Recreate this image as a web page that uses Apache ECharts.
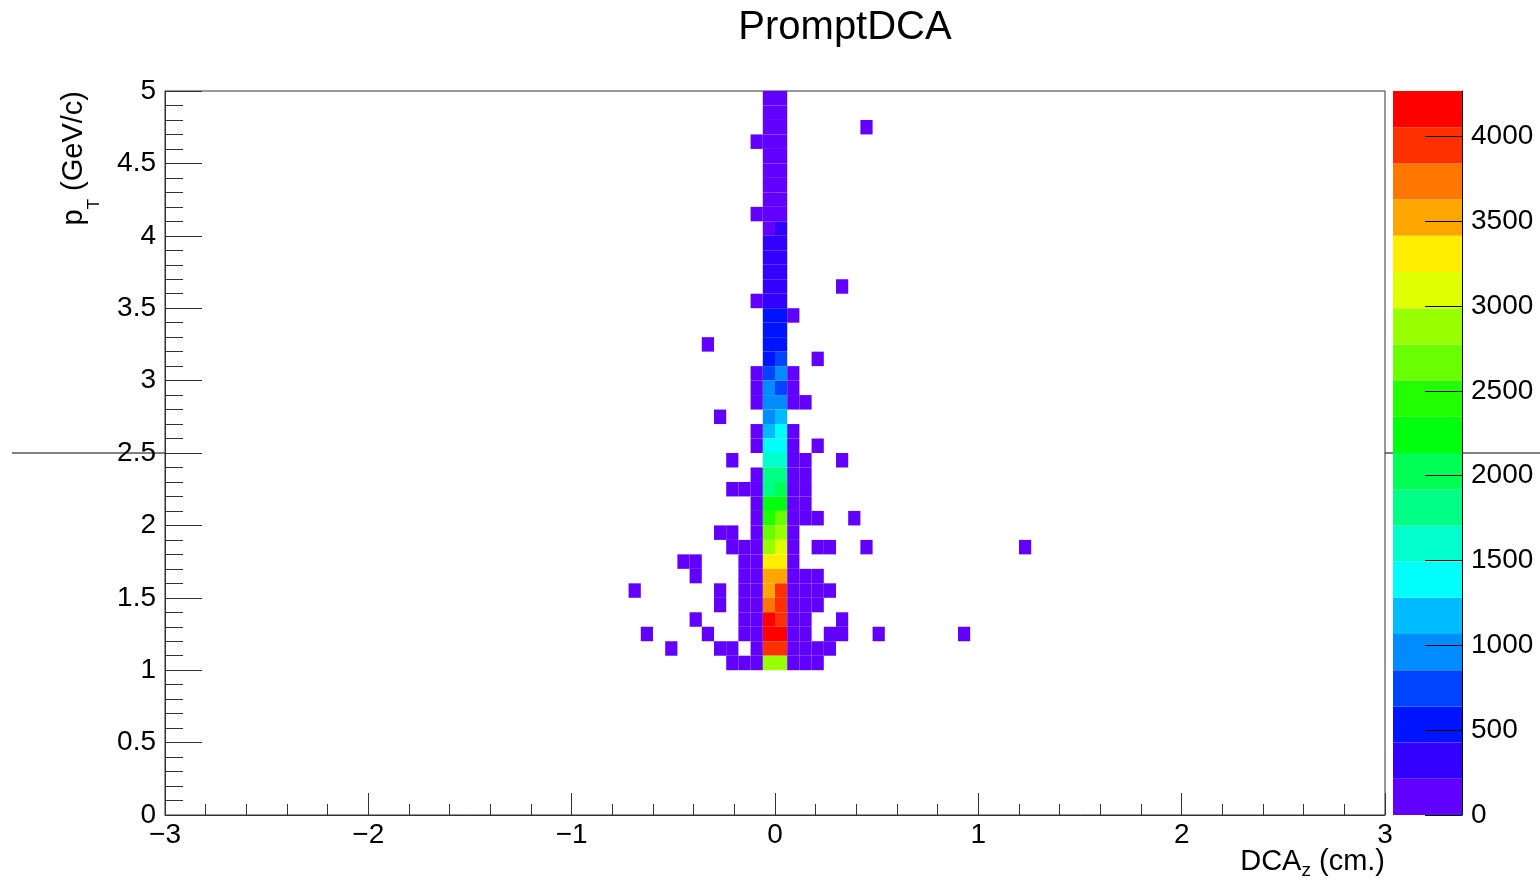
<!DOCTYPE html>
<html>
<head>
<meta charset="utf-8">
<script src="https://cdn.jsdelivr.net/npm/echarts@6/dist/echarts.min.js"></script>
<style>
html, body { margin: 0; padding: 0; background: #ffffff; }
#chart { width: 1540px; height: 882px; }
</style>
</head>
<body>
<div id="chart"></div>
<script>
// ---------------- data ----------------
const chartTitle = 'PromptDCA';
const xRange = [-3, 3];          // DCA_z (cm.)
const nBinsX = 100;
const yRange = [0, 5];           // p_T (GeV/c)
const nBinsY = 50;
const nContours = 20;
const zTicks = [0, 500, 1000, 1500, 2000, 2500, 3000, 3500, 4000];
const markerLineY = 2.5;

// ROOT "pretty" palette sampled at 20 contour levels
const palette = ['#6200ff', '#3300ff', '#0014ff', '#0044ff', '#008bff', '#00bbff', '#00fffc',
  '#00ffcc', '#00ff85', '#00ff55', '#00ff0e', '#22ff00', '#69ff00', '#99ff00', '#e0ff00',
  '#ffee00', '#ffa700', '#ff7700', '#ff3000', '#ff0000'];

// core columns: [yBin, count in xBin 49, count in xBin 50]
const coreRows = [
  [49, 150, 160], [48, 140, 175], [47, 155, 170], [46, 165, 180], [45, 160, 185],
  [44, 170, 190], [43, 175, 195], [42, 180, 200], [41, 190, 208], [40, 205, 230],
  [39, 250, 280], [38, 290, 320], [37, 330, 360], [36, 370, 390], [35, 400, 420],
  [34, 450, 470], [33, 500, 530], [32, 560, 590], [31, 620, 660], [30, 700, 880],
  [29, 900, 820], [28, 960, 1000], [27, 1040, 1120], [26, 1220, 1350], [25, 1400, 1460],
  [24, 1560, 1640], [23, 1760, 1830], [22, 1880, 1990], [21, 2200, 2280], [20, 2450, 2650],
  [19, 2700, 2880], [18, 2930, 3100], [17, 3280, 3350], [16, 3500, 3560], [15, 3600, 3950],
  [14, 3750, 3990], [13, 4120, 4030], [12, 4268, 4180], [11, 3900, 3880], [10, 2850, 2820]
];

// other filled cells: [xBin, yBin, count]
const sideCells = [
  [48, 46, 12], [48, 41, 15], [57, 47, 1], [55, 36, 1], [48, 35, 20], [51, 34, 18],
  [44, 32, 1], [53, 31, 1],
  [48, 30, 25], [51, 30, 22], [48, 29, 28], [51, 29, 26],
  [48, 28, 30], [51, 28, 32], [52, 28, 6], [45, 27, 1],
  [48, 26, 35], [51, 26, 33], [48, 25, 38], [51, 25, 36], [53, 25, 2],
  [46, 24, 2], [51, 24, 40], [52, 24, 8], [55, 24, 1],
  [48, 23, 42], [51, 23, 44], [52, 23, 9],
  [46, 22, 2], [47, 22, 6], [48, 22, 45], [51, 22, 48], [52, 22, 10],
  [48, 21, 50], [51, 21, 52], [52, 21, 11],
  [48, 20, 55], [51, 20, 57], [52, 20, 12], [53, 20, 3], [56, 20, 1],
  [45, 19, 2], [46, 19, 3], [48, 19, 58], [51, 19, 60],
  [46, 18, 3], [47, 18, 8], [48, 18, 62], [51, 18, 64], [53, 18, 3], [54, 18, 2], [57, 18, 1], [70, 18, 1],
  [42, 17, 1], [43, 17, 2], [47, 17, 9], [48, 17, 66], [51, 17, 68],
  [43, 16, 2], [47, 16, 10], [48, 16, 70], [51, 16, 72], [52, 16, 14], [53, 16, 4],
  [38, 15, 1], [45, 15, 3], [47, 15, 12], [48, 15, 75], [51, 15, 78], [52, 15, 16], [53, 15, 5], [54, 15, 2],
  [45, 14, 3], [47, 14, 13], [48, 14, 80], [51, 14, 82], [52, 14, 17], [53, 14, 5],
  [43, 13, 2], [47, 13, 14], [48, 13, 85], [51, 13, 88], [52, 13, 18], [55, 13, 1],
  [39, 12, 1], [44, 12, 2], [47, 12, 15], [48, 12, 90], [51, 12, 92], [52, 12, 19],
  [54, 12, 3], [55, 12, 2], [58, 12, 1], [65, 12, 1],
  [41, 11, 1], [45, 11, 3], [46, 11, 5], [48, 11, 80], [51, 11, 84], [52, 11, 18], [53, 11, 6], [54, 11, 3],
  [46, 10, 6], [47, 10, 14], [48, 10, 60], [51, 10, 64], [52, 10, 16], [53, 10, 5]
];

// ---------------- build ----------------
const FONT = "'Liberation Sans', Arial, Helvetica, sans-serif";
const dx = (xRange[1] - xRange[0]) / nBinsX;
const dy = (yRange[1] - yRange[0]) / nBinsY;

const cells = [];
coreRows.forEach(([by, c49, c50]) => { cells.push([49, by, c49]); cells.push([50, by, c50]); });
sideCells.forEach(c => cells.push(c));
const cellData = cells.map(([bx, by, c]) => [xRange[0] + bx * dx, yRange[0] + by * dy, c]);

const zMax = Math.max(...cells.map(c => c[2]));
const dz = zMax / nContours;
const levelData = [];
const pieces = [];
for (let k = 0; k < nContours; k++) {
  levelData.push([k * dz, (k + 1) * dz, (k + 0.5) * dz]);
  const p = { gte: k * dz, color: palette[k] };
  if (k === nContours - 1) p.lte = zMax; else p.lt = (k + 1) * dz;
  pieces.push(p);
}

const labelStyle = { fontFamily: FONT, fontSize: 28, color: '#000' };
const lineCol = '#333';

function rectItem(a, b, api) {
  return {
    type: 'rect',
    shape: { x: a[0], y: b[1], width: b[0] - a[0], height: a[1] - b[1] },
    style: { fill: api.visual('color') }
  };
}

const option = {
  backgroundColor: '#ffffff',
  animation: false,
  title: {
    text: chartTitle, left: 845, top: 28, padding: 0,
    textAlign: 'center', textVerticalAlign: 'middle',
    textStyle: { fontFamily: FONT, fontSize: 40, fontWeight: 'normal', color: '#000' }
  },
  grid: [
    { left: 165, top: 91, width: 1220, height: 724, show: true, borderColor: lineCol, borderWidth: 1, backgroundColor: '#fff' },
    { left: 1393, top: 91, width: 69, height: 724, show: false }
  ],
  xAxis: [
    {
      gridIndex: 0, type: 'value', min: xRange[0], max: xRange[1], interval: 1, position: 'bottom',
      axisLine: { show: true, onZero: false, lineStyle: { color: lineCol, width: 1 } },
      axisTick: { show: true, inside: true, length: 22, lineStyle: { color: lineCol } },
      minorTick: { show: true, splitNumber: 5, length: 11, lineStyle: { color: lineCol } },
      splitLine: { show: false },
      axisLabel: Object.assign({ margin: 6, formatter: v => (v < 0 ? '\u2212' : '') + Math.abs(v) }, labelStyle)
    },
    { gridIndex: 1, type: 'value', min: 0, max: 1, show: false }
  ],
  yAxis: [
    {
      gridIndex: 0, type: 'value', min: yRange[0], max: yRange[1], interval: 0.5, position: 'left',
      axisLine: { show: true, onZero: false, lineStyle: { color: lineCol, width: 1 } },
      axisTick: { show: true, inside: true, length: 37, lineStyle: { color: lineCol } },
      minorTick: { show: true, splitNumber: 5, length: 18, lineStyle: { color: lineCol } },
      splitLine: { show: false },
      axisLabel: Object.assign({ margin: 9 }, labelStyle)
    },
    {
      gridIndex: 1, type: 'value', min: 0, max: zMax, position: 'right', z: 10,
      axisLine: { show: true, onZero: false, lineStyle: { color: '#000', width: 1 } },
      axisTick: { show: true, inside: true, length: 37, customValues: zTicks, lineStyle: { color: '#000' } },
      axisLabel: Object.assign({ margin: 9, customValues: zTicks, formatter: v => String(v) }, labelStyle),
      splitLine: { show: false }, minorTick: { show: false }
    }
  ],
  visualMap: {
    type: 'piecewise', show: false, dimension: 2, seriesIndex: [0, 1], pieces: pieces
  },
  series: [
    {
      type: 'custom', coordinateSystem: 'cartesian2d', xAxisIndex: 0, yAxisIndex: 0,
      data: cellData, encode: { x: 0, y: 1 }, clip: true, silent: true,
      renderItem: (params, api) => {
        const x0 = api.value(0), y0 = api.value(1);
        return rectItem(api.coord([x0, y0]), api.coord([x0 + dx, y0 + dy]), api);
      }
    },
    {
      type: 'custom', coordinateSystem: 'cartesian2d', xAxisIndex: 1, yAxisIndex: 1,
      data: levelData, encode: { y: 0 }, silent: true, z: 0,
      renderItem: (params, api) => {
        return rectItem(api.coord([0, api.value(0)]), api.coord([1, api.value(1)]), api);
      }
    }
  ]
};

const chart = echarts.init(document.getElementById('chart'), null, { renderer: 'canvas' });
chart.setOption(option);

// axis titles and the horizontal marker line outside the frame
const yLine = chart.convertToPixel({ yAxisIndex: 0 }, markerLineY);
const gx0 = chart.convertToPixel({ xAxisIndex: 0 }, xRange[0]);
const gx1 = chart.convertToPixel({ xAxisIndex: 0 }, xRange[1]);
const cb0 = chart.convertToPixel({ xAxisIndex: 1 }, 0);
const cb1 = chart.convertToPixel({ xAxisIndex: 1 }, 1);
const lineSeg = (a, b) => ({ type: 'line', shape: { x1: a, y1: yLine, x2: b, y2: yLine }, style: { stroke: '#000', lineWidth: 1 }, z: 10 });

chart.setOption({
  graphic: [
    lineSeg(12, gx0), lineSeg(gx1, cb0), lineSeg(cb1, 1540),
    {
      type: 'text', x: gx1, y: 847, z: 20,
      style: {
        text: '{m|DCA}{s|z}{m| (cm.)}', align: 'right', verticalAlign: 'top', fill: '#000',
        rich: {
          m: { fontFamily: FONT, fontSize: 29, lineHeight: 29, verticalAlign: 'top', fill: '#000' },
          s: { fontFamily: FONT, fontSize: 19, verticalAlign: 'top', padding: [14, 0, 0, 0], fill: '#000' }
        }
      }
    },
    {
      type: 'text', x: 59.5, y: 91, rotation: Math.PI / 2, z: 20,
      style: {
        text: '{m|p}{s|T}{m| (GeV/c)}', align: 'right', verticalAlign: 'top', fill: '#000',
        rich: {
          m: { fontFamily: FONT, fontSize: 29, lineHeight: 29, verticalAlign: 'top', fill: '#000' },
          s: { fontFamily: FONT, fontSize: 17, verticalAlign: 'top', padding: [26, 0, 0, 0], fill: '#000' }
        }
      }
    }
  ]
});
</script>
</body>
</html>
